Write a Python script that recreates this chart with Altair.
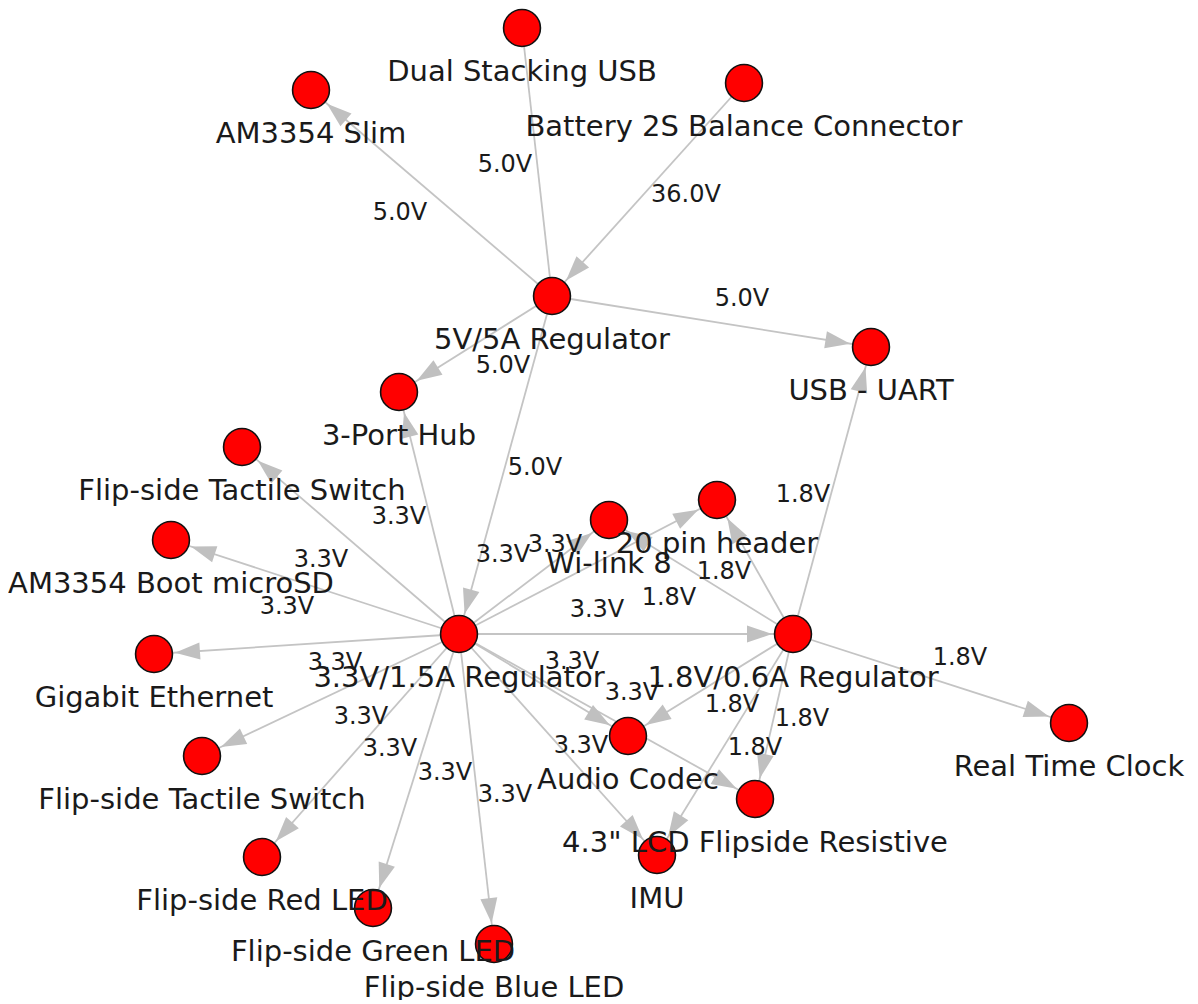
import math
import altair as alt
import pandas as pd

# ---- nodes (layout coordinates, y grows downward) ----
node_names = [
    "Dual Stacking USB", "AM3354 Slim", "Battery 2S Balance Connector",
    "5V/5A Regulator", "USB - UART", "3-Port Hub", "Flip-side Tactile Switch",
    "AM3354 Boot microSD", "Wi-link 8", "20 pin header", "3.3V/1.5A Regulator",
    "1.8V/0.6A Regulator", "Gigabit Ethernet", "Flip-side Tactile Switch",
    "Audio Codec", "Real Time Clock", "4.3\" LCD Flipside Resistive", "IMU",
    "Flip-side Red LED", "Flip-side Green LED", "Flip-side Blue LED",
]
node_x = [522, 311, 744, 552, 871, 399, 242, 171, 609, 717, 459,
          793, 154, 202, 628, 1069, 755, 657, 262, 373, 494]
node_y = [28, 90, 83, 296, 347, 392, 447, 540, 520, 500, 634,
          634, 654, 756, 736, 723, 799, 855, 857, 908, 944]

# ---- edges ----
edge_src = [3, 0, 2, 3, 3, 3,
            10, 10, 10, 10, 10, 10, 10, 10, 10, 10, 10, 10, 10, 10,
            11, 11, 11, 11, 11, 11, 11]
edge_dst = [1, 3, 3, 4, 5, 10,
            6, 7, 5, 8, 9, 11, 12, 14, 13, 16, 18, 17, 19, 20,
            4, 9, 8, 14, 16, 17, 15]
edge_label = ["5.0V", "5.0V", "36.0V", "5.0V", "5.0V", "5.0V",
              "3.3V", "3.3V", "3.3V", "3.3V", "3.3V", "3.3V", "3.3V",
              "3.3V", "3.3V", "3.3V", "3.3V", "3.3V", "3.3V", "3.3V",
              "1.8V", "1.8V", "1.8V", "1.8V", "1.8V", "1.8V", "1.8V"]
edge_label_x = [400, 505, 686, 742, 503, 535,
                321, 287, 399, 503, 555, 597, 335, 572, 361, 632, 390, 581, 445, 505,
                803, 724, 669, 732, 802, 755, 960]
edge_label_y = [213, 165, 195, 299, 366, 468,
                560, 607, 517, 555, 545, 610, 663, 662, 717, 693, 749, 746, 773, 795,
                495, 572, 598, 705, 719, 748, 658]
edge_arrow = [True, False, True, True, True, True,
              True, True, True, True, True, True, True, True, True, True, True, True, True, True,
              True, True, True, True, True, True, True]

NODE_R = 21
W, H = 1182, 992
xs = alt.Scale(domain=[8, 8 + W])
ys = alt.Scale(domain=[8, 8 + H], reverse=True)

nodes = pd.DataFrame({"name": node_names, "x": node_x, "y": node_y})

rows, arrows = [], []
for s, t, lab, lx, ly, ar in zip(edge_src, edge_dst, edge_label,
                                  edge_label_x, edge_label_y, edge_arrow):
    x1, y1, x2, y2 = node_x[s], node_y[s], node_x[t], node_y[t]
    rows.append({"x": x1, "y": y1, "x2": x2, "y2": y2, "label": lab, "lx": lx, "ly": ly})
    if ar:
        d = math.hypot(x2 - x1, y2 - y1)
        ux, uy = (x2 - x1) / d, (y2 - y1) / d
        ang = math.degrees(math.atan2(ux, -uy)) % 360
        arrows.append({"ax": x2 - ux * NODE_R, "ay": y2 - uy * NODE_R, "ang": ang})
edges = pd.DataFrame(rows)
arrow_df = pd.DataFrame(arrows)

X = lambda f: alt.X(f, type="quantitative", scale=xs, axis=None)
Y = lambda f: alt.Y(f, type="quantitative", scale=ys, axis=None)

lines = alt.Chart(edges).mark_rule(color="#c4c4c4", strokeWidth=1.8).encode(
    x=X("x"), y=Y("y"), x2="x2", y2="y2")

heads = alt.Chart(arrow_df).mark_point(
    shape="M0,0L-0.34,1L0.34,1Z", size=2500, filled=True,
    color="#c0c0c0", opacity=1, strokeWidth=0
).encode(x=X("ax"), y=Y("ay"), angle=alt.Angle("ang:Q", scale=None))

circles = alt.Chart(nodes).mark_circle(
    size=1360, color="#ff0000", opacity=1, stroke="#111111", strokeWidth=1.6
).encode(x=X("x"), y=Y("y"))

node_text = alt.Chart(nodes).mark_text(
    font="DejaVu Sans", fontSize=29, color="#1a1a1a", baseline="middle",
    align="center", dy=44
).encode(x=X("x"), y=Y("y"), text="name:N")

edge_text = alt.Chart(edges).mark_text(
    font="DejaVu Sans", fontSize=24, color="#1a1a1a", baseline="middle",
    align="center"
).encode(x=X("lx"), y=Y("ly"), text="label:N")

chart = alt.layer(lines, heads, circles, node_text, edge_text).properties(
    width=W, height=H, padding=0, autosize="none", background="white"
).configure_view(stroke=None)

chart.save("out.html", embed_options={"renderer": "svg", "actions": False})
